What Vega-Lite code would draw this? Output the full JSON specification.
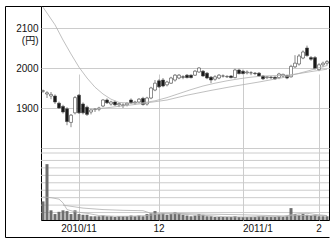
{
  "$schema": "https://vega.github.io/schema/vega-lite/v6.json",
  "width": 288,
  "height": 214,
  "autosize": {"type": "none"},
  "padding": {"left": 41, "top": 6, "right": 7, "bottom": 24},
  "background": "white",
  "config": {
    "view": {"stroke": "black", "strokeWidth": 1},
    "axis": {"labelFont": "Liberation Sans, Noto Sans CJK JP", "labelFontSize": 10, "labelColor": "#111", "titleFont": "Liberation Sans"}
  },
  "datasets": {
    "ohlc": [
      {"d":"2010-10-19","o":1942,"h":1946,"l":1938,"c":1943,"v":25},
      {"d":"2010-10-20","o":1935,"h":1942,"l":1925,"c":1938,"v":75},
      {"d":"2010-10-21","o":1930,"h":1940,"l":1922,"c":1934,"v":13},
      {"d":"2010-10-22","o":1930,"h":1934,"l":1910,"c":1915,"v":8},
      {"d":"2010-10-25","o":1912,"h":1916,"l":1898,"c":1900,"v":11},
      {"d":"2010-10-26","o":1904,"h":1908,"l":1886,"c":1890,"v":13},
      {"d":"2010-10-27","o":1898,"h":1902,"l":1857,"c":1866,"v":12},
      {"d":"2010-10-28","o":1864,"h":1885,"l":1852,"c":1882,"v":8},
      {"d":"2010-10-29","o":1888,"h":1930,"l":1884,"c":1926,"v":13},
      {"d":"2010-11-01","o":1932,"h":1935,"l":1885,"c":1888,"v":8},
      {"d":"2010-11-02","o":1910,"h":1914,"l":1884,"c":1888,"v":7},
      {"d":"2010-11-04","o":1902,"h":1906,"l":1880,"c":1884,"v":7},
      {"d":"2010-11-05","o":1890,"h":1898,"l":1884,"c":1895,"v":5},
      {"d":"2010-11-08","o":1896,"h":1900,"l":1890,"c":1897,"v":5},
      {"d":"2010-11-09","o":1897,"h":1903,"l":1892,"c":1900,"v":5},
      {"d":"2010-11-10","o":1905,"h":1922,"l":1902,"c":1920,"v":6},
      {"d":"2010-11-11","o":1920,"h":1924,"l":1910,"c":1913,"v":5},
      {"d":"2010-11-12","o":1910,"h":1918,"l":1906,"c":1915,"v":5},
      {"d":"2010-11-15","o":1915,"h":1918,"l":1905,"c":1908,"v":4},
      {"d":"2010-11-16","o":1908,"h":1914,"l":1902,"c":1911,"v":5},
      {"d":"2010-11-17","o":1906,"h":1912,"l":1900,"c":1908,"v":5},
      {"d":"2010-11-18","o":1908,"h":1914,"l":1904,"c":1912,"v":5},
      {"d":"2010-11-19","o":1920,"h":1924,"l":1910,"c":1913,"v":6},
      {"d":"2010-11-22","o":1913,"h":1918,"l":1908,"c":1915,"v":5},
      {"d":"2010-11-24","o":1915,"h":1925,"l":1912,"c":1922,"v":6},
      {"d":"2010-11-25","o":1924,"h":1928,"l":1906,"c":1909,"v":5},
      {"d":"2010-11-26","o":1910,"h":1928,"l":1906,"c":1925,"v":8},
      {"d":"2010-11-29","o":1925,"h":1953,"l":1922,"c":1950,"v":9},
      {"d":"2010-11-30","o":1945,"h":1970,"l":1942,"c":1962,"v":12},
      {"d":"2010-12-01","o":1968,"h":1972,"l":1950,"c":1953,"v":8},
      {"d":"2010-12-02","o":1970,"h":1975,"l":1952,"c":1955,"v":9},
      {"d":"2010-12-03","o":1958,"h":1968,"l":1954,"c":1965,"v":7},
      {"d":"2010-12-06","o":1962,"h":1978,"l":1960,"c":1975,"v":8},
      {"d":"2010-12-07","o":1970,"h":1985,"l":1966,"c":1982,"v":10},
      {"d":"2010-12-08","o":1975,"h":1985,"l":1972,"c":1982,"v":9},
      {"d":"2010-12-09","o":1978,"h":1982,"l":1972,"c":1977,"v":7},
      {"d":"2010-12-10","o":1982,"h":1985,"l":1974,"c":1976,"v":6},
      {"d":"2010-12-13","o":1982,"h":1984,"l":1974,"c":1976,"v":5},
      {"d":"2010-12-14","o":1982,"h":1995,"l":1980,"c":1992,"v":6},
      {"d":"2010-12-15","o":1990,"h":2002,"l":1988,"c":2000,"v":8},
      {"d":"2010-12-16","o":1992,"h":1995,"l":1978,"c":1980,"v":7},
      {"d":"2010-12-17","o":1987,"h":1990,"l":1972,"c":1975,"v":5},
      {"d":"2010-12-20","o":1977,"h":1980,"l":1962,"c":1970,"v":5},
      {"d":"2010-12-21","o":1972,"h":1982,"l":1968,"c":1978,"v":4},
      {"d":"2010-12-22","o":1975,"h":1985,"l":1972,"c":1982,"v":4},
      {"d":"2010-12-24","o":1980,"h":1984,"l":1976,"c":1980,"v":4},
      {"d":"2010-12-27","o":1978,"h":1982,"l":1975,"c":1979,"v":4},
      {"d":"2010-12-28","o":1980,"h":1982,"l":1974,"c":1976,"v":4},
      {"d":"2010-12-29","o":1976,"h":1998,"l":1974,"c":1995,"v":5},
      {"d":"2010-12-30","o":1995,"h":1998,"l":1984,"c":1986,"v":4},
      {"d":"2011-01-04","o":1992,"h":1996,"l":1984,"c":1986,"v":4},
      {"d":"2011-01-05","o":1988,"h":1994,"l":1984,"c":1990,"v":4},
      {"d":"2011-01-06","o":1988,"h":1992,"l":1982,"c":1988,"v":4},
      {"d":"2011-01-07","o":1987,"h":1990,"l":1982,"c":1986,"v":4},
      {"d":"2011-01-11","o":1987,"h":1990,"l":1978,"c":1980,"v":5},
      {"d":"2011-01-12","o":1980,"h":1982,"l":1970,"c":1973,"v":5},
      {"d":"2011-01-13","o":1976,"h":1980,"l":1972,"c":1978,"v":4},
      {"d":"2011-01-14","o":1977,"h":1980,"l":1972,"c":1976,"v":4},
      {"d":"2011-01-17","o":1977,"h":1979,"l":1970,"c":1973,"v":4},
      {"d":"2011-01-18","o":1976,"h":1988,"l":1972,"c":1985,"v":5},
      {"d":"2011-01-19","o":1980,"h":1986,"l":1976,"c":1984,"v":4},
      {"d":"2011-01-20","o":1981,"h":1983,"l":1972,"c":1975,"v":5},
      {"d":"2011-01-21","o":1978,"h":2008,"l":1976,"c":2004,"v":16},
      {"d":"2011-01-24","o":2003,"h":2032,"l":2000,"c":2012,"v":8},
      {"d":"2011-01-25","o":2010,"h":2035,"l":2006,"c":2030,"v":7},
      {"d":"2011-01-26","o":2025,"h":2044,"l":2022,"c":2040,"v":8},
      {"d":"2011-01-27","o":2050,"h":2056,"l":2028,"c":2031,"v":7},
      {"d":"2011-01-28","o":2026,"h":2030,"l":2018,"c":2022,"v":6},
      {"d":"2011-01-31","o":2026,"h":2030,"l":1996,"c":1999,"v":7},
      {"d":"2011-02-01","o":1996,"h":2012,"l":1992,"c":2008,"v":5},
      {"d":"2011-02-02","o":2008,"h":2016,"l":2002,"c":2012,"v":5},
      {"d":"2011-02-03","o":2012,"h":2020,"l":2006,"c":2016,"v":5}
    ],
    "ma1": [
      {"d":"2010-10-19","p":2152},{"d":"2010-10-22","p":2108},{"d":"2010-10-26","p":2070},
      {"d":"2010-10-28","p":2035},{"d":"2010-11-01","p":2002},{"d":"2010-11-04","p":1975},
      {"d":"2010-11-08","p":1952},{"d":"2010-11-10","p":1935},{"d":"2010-11-12","p":1922},
      {"d":"2010-11-16","p":1914},{"d":"2010-11-19","p":1912},{"d":"2010-11-25","p":1913},
      {"d":"2010-11-30","p":1918},{"d":"2010-12-03","p":1926},{"d":"2010-12-08","p":1936},
      {"d":"2010-12-13","p":1946},{"d":"2010-12-16","p":1955},{"d":"2010-12-21","p":1962},
      {"d":"2010-12-27","p":1968},{"d":"2010-12-30","p":1973},{"d":"2011-01-06","p":1977},
      {"d":"2011-01-12","p":1980},{"d":"2011-01-17","p":1981},{"d":"2011-01-20","p":1982},
      {"d":"2011-01-25","p":1986},{"d":"2011-01-28","p":1991},{"d":"2011-02-01","p":1994},
      {"d":"2011-02-03","p":1997}
    ],
    "ma2": [
      {"d":"2010-11-05","p":1896},{"d":"2010-11-15","p":1903},{"d":"2010-11-24","p":1910},
      {"d":"2010-12-03","p":1920},{"d":"2010-12-10","p":1932},{"d":"2010-12-20","p":1944},
      {"d":"2010-12-29","p":1955},{"d":"2011-01-11","p":1965},{"d":"2011-01-19","p":1976},
      {"d":"2011-01-27","p":1992},{"d":"2011-02-03","p":2006}
    ],
    "vm1": [
      {"d":"2010-10-19","q":31},{"d":"2010-10-21","q":30},{"d":"2010-10-25","q":28},
      {"d":"2010-10-26","q":23},{"d":"2010-10-27","q":14},{"d":"2010-10-29","q":11},
      {"d":"2010-11-04","q":9},{"d":"2010-11-09","q":6},{"d":"2010-11-15","q":5},
      {"d":"2010-11-19","q":5},{"d":"2010-11-26","q":6},{"d":"2010-12-01","q":8},
      {"d":"2010-12-07","q":8.5},{"d":"2010-12-13","q":7},{"d":"2010-12-17","q":6},
      {"d":"2010-12-24","q":4.5},{"d":"2011-01-04","q":4},{"d":"2011-01-12","q":4.5},
      {"d":"2011-01-19","q":4.5},{"d":"2011-01-21","q":7},{"d":"2011-01-25","q":8.5},
      {"d":"2011-01-27","q":9},{"d":"2011-01-31","q":7.5},{"d":"2011-02-03","q":6}
    ],
    "vm2": [
      {"d":"2010-10-26","q":20},{"d":"2010-11-02","q":16},{"d":"2010-11-10","q":14},
      {"d":"2010-11-17","q":13},{"d":"2010-11-25","q":12.5},{"d":"2010-11-29","q":9},
      {"d":"2010-12-06","q":9},{"d":"2010-12-16","q":8},{"d":"2011-01-04","q":7},
      {"d":"2011-01-19","q":5.5},{"d":"2011-01-25","q":6},{"d":"2011-02-03","q":6}
    ],
    "vgrid": [{"g":10},{"g":20},{"g":30},{"g":40},{"g":50},{"g":60},{"g":70},{"g":80},{"g":90}],
    "frame": [{"a": 0, "b": 0}]
  },
  "layer": [
    {
      "layer": [
        {
          "layer": [
            {
              "data": {"name": "ohlc"},
              "mark": {"type": "rule", "color": "#555", "strokeWidth": 0.7},
              "encoding": {
                "x": {
                  "field": "d", "type": "ordinal",
                  "scale": {"type": "band", "paddingInner": 0, "paddingOuter": 0},
                  "axis": {
                    "orient": "bottom", "title": null, "domain": false, "ticks": false,
                    "labelAngle": 0, "labelPadding": 3, "bandPosition": 0.5,
                    "labelAlign": {"condition": {"test": "datum.value == '2011-01-04'", "value": "left"}, "value": "center"},
                    "grid": true, "gridColor": "#cccccc", "gridWidth": 1,
                    "values": ["2010-11-01", "2010-12-01", "2011-01-04", "2011-02-01"],
                    "labelExpr": "datum.value == '2010-11-01' ? '2010/11' : datum.value == '2010-12-01' ? '12' : datum.value == '2011-01-04' ? '2011/1' : '2'"
                  }
                },
                "y": {
                  "field": "l", "type": "quantitative",
                  "scale": {"domain": [1790, 2155], "range": [146, 0], "nice": false, "zero": false},
                  "axis": {
                    "orient": "left", "title": null, "domain": false, "ticks": false,
                    "labelPadding": 3, "grid": true, "gridColor": "#cccccc",
                    "values": [1800, 1850, 1900, 1950, 2000, 2050, 2100, 2150],
                    "labelExpr": "datum.value == 2100 ? ['2100', '(円)'] : datum.value == 2000 ? '2000' : datum.value == 1900 ? '1900' : ''"
                  }
                },
                "y2": {"field": "h"}
              }
            },
            {
              "data": {"name": "ohlc"},
              "mark": {"type": "bar", "size": 3, "stroke": "#444", "strokeWidth": 0.6},
              "encoding": {
                "x": {"field": "d", "type": "ordinal"},
                "y": {"field": "o", "type": "quantitative"},
                "y2": {"field": "c"},
                "fill": {"condition": {"test": "datum.c >= datum.o", "value": "white"}, "value": "#1a1a1a"}
              }
            },
            {
              "data": {"name": "ma1"},
              "mark": {"type": "line", "color": "#b0b0b0", "strokeWidth": 0.8},
              "encoding": {
                "x": {"field": "d", "type": "ordinal"},
                "y": {"field": "p", "type": "quantitative"}
              }
            },
            {
              "data": {"name": "ma2"},
              "mark": {"type": "line", "color": "#b0b0b0", "strokeWidth": 0.8},
              "encoding": {
                "x": {"field": "d", "type": "ordinal"},
                "y": {"field": "p", "type": "quantitative"}
              }
            }
          ]
        },
        {
          "layer": [
            {
              "data": {"name": "vgrid"},
              "mark": {"type": "rule", "color": "#cccccc", "strokeWidth": 1},
              "encoding": {
                "y": {
                  "field": "g", "type": "quantitative",
                  "scale": {"domain": [0, 90], "range": [214, 147], "nice": false},
                  "axis": null
                }
              }
            },
            {
              "data": {"name": "ohlc"},
              "mark": {"type": "bar", "size": 3, "color": "#6e6e6e"},
              "encoding": {
                "x": {"field": "d", "type": "ordinal"},
                "y": {"field": "v", "type": "quantitative"}
              }
            },
            {
              "data": {"name": "vm1"},
              "mark": {"type": "line", "color": "#b0b0b0", "strokeWidth": 0.8},
              "encoding": {
                "x": {"field": "d", "type": "ordinal"},
                "y": {"field": "q", "type": "quantitative"}
              }
            },
            {
              "data": {"name": "vm2"},
              "mark": {"type": "line", "color": "#b0b0b0", "strokeWidth": 0.8},
              "encoding": {
                "x": {"field": "d", "type": "ordinal"},
                "y": {"field": "q", "type": "quantitative"}
              }
            }
          ]
        }
      ],
      "resolve": {"scale": {"y": "independent"}, "axis": {"y": "independent"}}
    },
    {
      "data": {"name": "frame"},
      "mark": {"type": "point", "opacity": 0},
      "encoding": {
        "x": {
          "field": "a", "type": "quantitative",
          "scale": {"domain": [0, 1], "range": [-36, 288], "nice": false, "zero": false},
          "axis": {"orient": "bottom", "offset": 17, "title": null, "labels": false, "ticks": false, "grid": false, "domainColor": "black", "domainWidth": 1}
        },
        "y": {
          "field": "b", "type": "quantitative",
          "scale": {"domain": [0, 1], "range": [231, 0], "nice": false, "zero": false},
          "axis": {"orient": "left", "offset": 36, "title": null, "labels": false, "grid": false, "values": [1], "ticks": true, "tickSize": -36, "tickColor": "black", "tickWidth": 1, "domainColor": "black", "domainWidth": 1}
        }
      }
    }
  ],
  "resolve": {"scale": {"x": "independent", "y": "independent"}, "axis": {"x": "independent", "y": "independent"}}
}
